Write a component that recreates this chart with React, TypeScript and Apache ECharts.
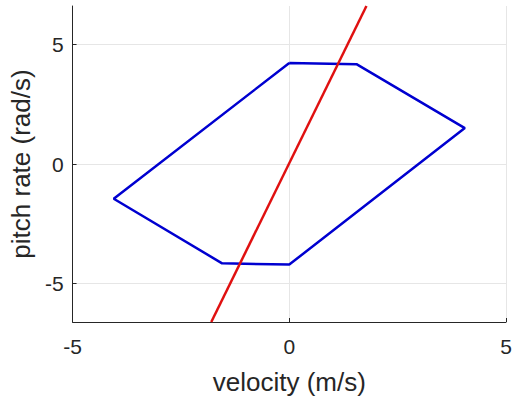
import React, { useEffect, useRef } from "react";
import * as echarts from "echarts";

const polygonX = [0, 1.55, 4.05, 0, -1.55, -4.05, 0];
const polygonY = [4.22, 4.17, 1.5, -4.2, -4.15, -1.45, 4.22];
const lineX = [-1.8, 1.78];
const lineY = [-6.6, 6.6];
const xTicks = [-5, 0, 5];
const yTicks = [-5, 0, 5];

export default function App() {
  const ref = useRef<HTMLDivElement>(null);
  useEffect(() => {
    const chart = echarts.init(ref.current!, null, { renderer: "svg" });
    const font = "'Liberation Sans', Arial, sans-serif";
    const axisColor = "#262626";
    chart.setOption({
      animation: false,
      grid: { left: 72, right: 10, top: 6, bottom: 83 },
      xAxis: {
        type: "value",
        min: -5,
        max: 5,
        interval: 5,
        name: "velocity (m/s)",
        nameLocation: "middle",
        nameGap: 47,
        nameTextStyle: { fontFamily: font, fontSize: 26, color: axisColor },
        axisLine: { show: true, onZero: false, lineStyle: { color: axisColor, width: 1 } },
        axisTick: { show: true, inside: true, length: 4, lineStyle: { color: axisColor } },
        axisLabel: {
          fontFamily: font,
          fontSize: 21,
          color: axisColor,
          margin: 14,
          customValues: xTicks,
        },
        splitLine: { show: true, lineStyle: { color: "#e6e6e6", width: 1 } },
      },
      yAxis: {
        type: "value",
        min: -6.6,
        max: 6.6,
        name: "pitch rate (rad/s)",
        nameLocation: "middle",
        nameGap: 34,
        nameTextStyle: { fontFamily: font, fontSize: 26, color: axisColor },
        axisLine: { show: true, onZero: false, lineStyle: { color: axisColor, width: 1 } },
        axisTick: {
          show: true,
          inside: true,
          length: 4,
          lineStyle: { color: axisColor },
          customValues: yTicks,
        },
        axisLabel: {
          fontFamily: font,
          fontSize: 21,
          color: axisColor,
          margin: 9,
          customValues: yTicks,
        },
        splitLine: { show: true, lineStyle: { color: "#e6e6e6", width: 1 } },
      },
      series: [
        {
          type: "line",
          data: polygonX.map((x, i) => [x, polygonY[i]]),
          showSymbol: false,
          symbol: "none",
          lineStyle: { color: "#0000d0", width: 2.5 },
          clip: true,
        },
        {
          type: "line",
          data: lineX.map((x, i) => [x, lineY[i]]),
          showSymbol: false,
          symbol: "none",
          lineStyle: { color: "#e01010", width: 2.5 },
          clip: true,
        },
      ],
    });
    return () => chart.dispose();
  }, []);
  return <div ref={ref} style={{ width: 516, height: 405, position: "absolute", left: 0, top: 0 }} />;
}
